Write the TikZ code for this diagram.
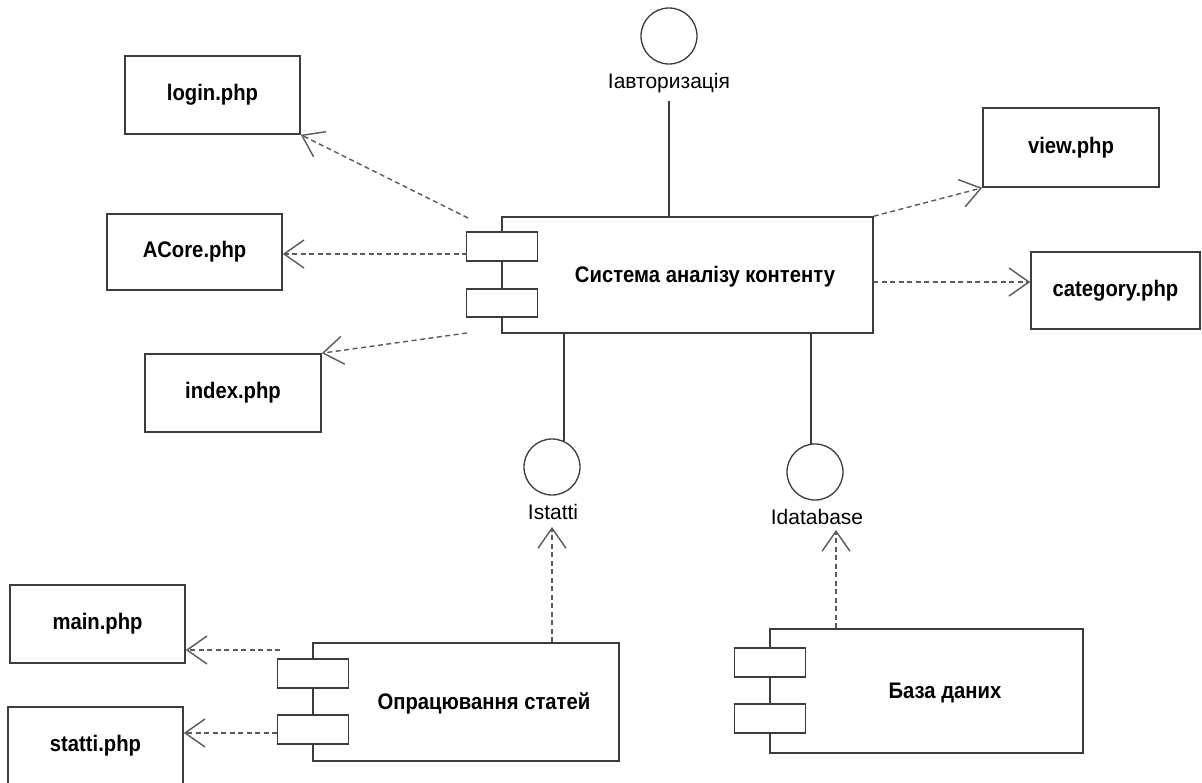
\documentclass[tikz,border=0pt]{standalone}
\usepackage{fontspec}
\setmainfont{Liberation Sans}
\newfontfamily\lblfont[FakeStretch=0.9]{Liberation Sans}
\usetikzlibrary{arrows.meta}
\definecolor{edge}{HTML}{3C3C3C}
\definecolor{dep}{HTML}{5A5A5A}
\tikzset{
  filebox/.style={draw=edge, line width=1.6pt, fill=white, inner sep=0pt,
    font=\lblfont\bfseries\fontsize{22.5}{27}\selectfont, text=black},
  compbox/.style={draw=edge, line width=1.6pt, fill=white, inner sep=0pt},
  portbox/.style={draw=edge, line width=1.6pt, fill=white, inner sep=0pt,
    minimum width=71pt, minimum height=29pt},
  comptext/.style={font=\lblfont\bfseries\fontsize{22.5}{27}\selectfont, text=black, inner sep=0pt},
  iface/.style={circle, draw=edge, line width=1.3pt, minimum size=56pt, inner sep=0pt},
  ifacelbl/.style={font=\fontsize{21}{25}\selectfont, text=black, inner sep=0pt},
  depline/.style={draw=dep, line width=1.4pt, dash pattern=on 5pt off 3.5pt,
    -{Straight Barb[length=20pt,width=28pt,line width=1.4pt]}},
  wire/.style={draw=edge, line width=1.6pt}
}
\begin{document}
\begin{tikzpicture}[x=1pt, y=-1pt]
\useasboundingbox[fill=white] (0,0) rectangle (1202,782);

% file boxes
\node[filebox, minimum width=175pt, minimum height=78pt] (login) at (212.5,95) {login.php};
\node[filebox, minimum width=175pt, minimum height=76pt] (acore) at (194.5,252) {ACore.php};
\node[filebox, minimum width=176pt, minimum height=78pt] (index) at (233,393) {index.php};
\node[filebox, minimum width=176pt, minimum height=79pt] (view) at (1071,147.5) {view.php};
\node[filebox, minimum width=169pt, minimum height=77pt] (category) at (1115.5,290.5) {category.php};
\node[filebox, minimum width=175pt, minimum height=78pt] (mainphp) at (97.5,624) {main.php};
\node[filebox, minimum width=175pt, minimum height=78pt] (statti) at (95.5,746) {statti.php};

% main component
\node[compbox, minimum width=371pt, minimum height=116pt] (core) at (687.5,275) {};
\node[portbox, minimum height=29pt] (cp1) at (502,246.5) {};
\node[portbox, minimum height=28pt] (cp2) at (502,303) {};
\node[comptext] (coretxt) at (705,277) {Система аналізу контенту};

% article processing component
\node[compbox, minimum width=306pt, minimum height=118pt] (proc) at (466,702) {};
\node[portbox] (pp1) at (313,673.5) {};
\node[portbox] (pp2) at (313,729.5) {};
\node[comptext] (proctxt) at (484,703) {Опрацювання статей};

% database component
\node[compbox, minimum width=313pt, minimum height=124pt] (db) at (926.5,691) {};
\node[portbox] (dp1) at (770,662.5) {};
\node[portbox] (dp2) at (770,718.5) {};
\node[comptext] (dbtxt) at (945,693) {База даних};

% interfaces
\node[iface] (iauth) at (669,36) {};
\node[ifacelbl] (iauthlbl) at (669,83) {Іавторизація};
\node[iface] (istat) at (552,467) {};
\node[ifacelbl] (istatlbl) at (553,512) {Istatti};
\node[iface] (idb) at (815,472) {};
\node[ifacelbl] (idblbl) at (817,517) {Idatabase};

% interface wires
\draw[wire] ([yshift=-8pt]iauthlbl.south) -- (iauthlbl.south |- core.north);
\draw[wire] (istat.65) -- (istat.65 |- core.south);
\draw[wire] (idb.98) -- (idb.98 |- core.south);

% dependency start points
\coordinate (sLogin) at (468,218);
\coordinate (sAcore) at (467,254);
\coordinate (sIndex) at (467,333);
\coordinate (sCat) at (873,282);
\coordinate (sMain) at (280,650);
\coordinate (sStatti) at (277,733);
\coordinate (tStat) at (552,527);
\coordinate (tDb) at (836,530);

% dependencies
\draw[depline] (sLogin) -- (login.south east);
\draw[depline] (sAcore) -- (sAcore -| acore.east);
\draw[depline] (sIndex) -- (index.north east);
\draw[depline] (core.north east) -- (view.south west);
\draw[depline] (sCat) -- (sCat -| category.west);
\draw[depline] (sMain) -- (sMain -| mainphp.east);
\draw[depline] (sStatti) -- (sStatti -| statti.east);
\draw[depline] (tStat |- proc.north) -- (tStat);
\draw[depline] (tDb |- db.north) -- (tDb);
\end{tikzpicture}
\end{document}
